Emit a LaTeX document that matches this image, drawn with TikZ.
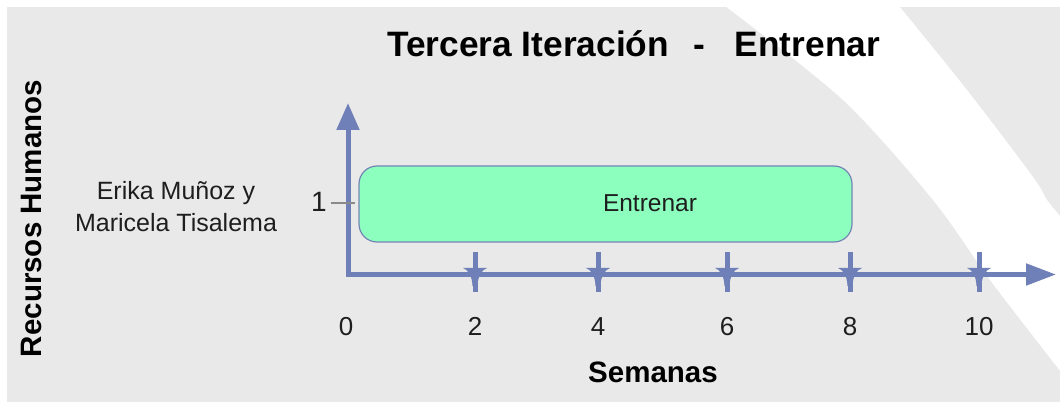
\documentclass[tikz,border=0pt]{standalone}
\usepackage{fontspec}
\setmainfont{Liberation Sans}
\usetikzlibrary{arrows.meta}
\definecolor{bggray}{HTML}{E9E9E9}
\definecolor{axisblue}{HTML}{6F7FB7}
\definecolor{boxgreen}{HTML}{8CFFBE}
\definecolor{boxedge}{HTML}{7585B5}
\definecolor{tickgray}{HTML}{8A8A8A}
\definecolor{txt}{HTML}{1E1E1E}
\begin{document}
\begin{tikzpicture}[x=1pt,y=-1pt,
  lbl/.style={inner sep=0pt, text=txt},
  axisline/.style={draw=axisblue, line width=5pt, line join=miter,
    {Triangle[length=27pt,width=22pt]}-{Triangle[length=30pt,width=21pt]}},
  tickstem/.style={draw=axisblue, line width=5pt},
  tickhead/.style={fill=axisblue},
  taskbox/.style={draw=boxedge, fill=boxgreen, line width=1.2pt, rounded corners=18pt,
    minimum width=493pt, minimum height=76pt, inner sep=0pt},
  numlbl/.style={lbl, font=\fontsize{26}{30}\selectfont, anchor=base}]
\useasboundingbox (0,0) rectangle (1060,403);
% background
\fill[bggray] (7,7) rectangle (1060,402);
\fill[white] plot[smooth] coordinates {(725,6) (843,100) (933,200) (990,280) (1061,372)}
  -- (1061,217) -- plot[smooth] coordinates {(1061,217) (1047,200) (1033,177) (967,90) (899,6)} -- cycle;
% title
\node[lbl, anchor=base west, font=\bfseries\fontsize{35.3}{40}\selectfont, text=black] (title) at (387,57)
  {Tercera Iteración\hspace{24pt}-\hspace{30pt}Entrenar};
% y label
\node[lbl, rotate=90, font=\bfseries\fontsize{29.5}{34}\selectfont, text=black] (ylab) at (31,218.5) {Recursos Humanos};
% resource name
\node[lbl, align=center, font=\fontsize{25}{32}\selectfont] (res) at (176,207) {Erika Muñoz y\\Maricela Tisalema};
% task box
\node[taskbox] (task) at (605.5,204) {};
\node[lbl, font=\fontsize{24.5}{28}\selectfont] (tasklbl) at (650,203) {Entrenar};
% axes
\coordinate (ytop) at (348,103);
\coordinate (origin) at (348,274.5);
\coordinate (xend) at (1056,274.5);
\draw[axisline] (ytop) -- (origin) -- (xend);
% week ticks
\foreach \x in {475,598,727,850,979} {
  \draw[tickstem] (\x,252) -- (\x,292);
  \fill[tickhead] (\x-12,268) .. controls (\x-7,270) and (\x-3,275) .. (\x-2.5,286)
    -- (\x+2.5,286) .. controls (\x+3,275) and (\x+7,270) .. (\x+12,268) -- cycle;
}
% resource tick
\coordinate (r1) at (331,203);
\coordinate (r1e) at (355,203);
\draw[tickgray, line width=2pt] (r1) -- (r1e);
\node[lbl, font=\fontsize{28}{32}\selectfont, anchor=base] (one) at (319,212) {1};
% week numbers
\foreach \x/\t in {346/0,475/2,598/4,727/6,850/8,979/10}
  \node[numlbl] (n\t) at (\x,335) {\t};
% x label
\node[lbl, anchor=base, font=\bfseries\fontsize{29.5}{34}\selectfont, text=black] (xlab) at (653,382) {Semanas};
\end{tikzpicture}
\end{document}
